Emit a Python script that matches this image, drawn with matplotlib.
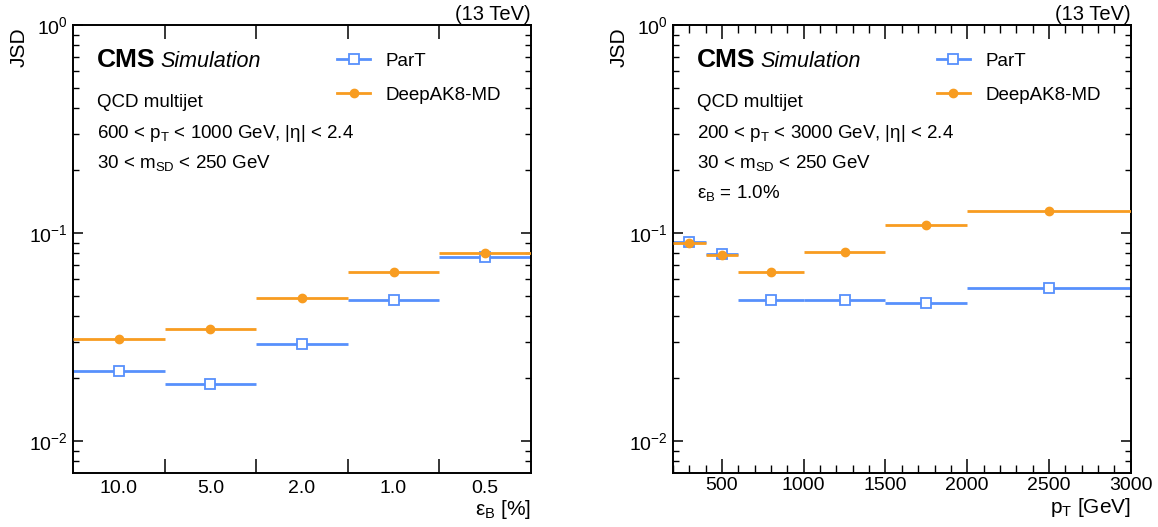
import matplotlib
matplotlib.use("Agg")
from matplotlib import pyplot as plt
from matplotlib.lines import Line2D
from matplotlib.ticker import FixedLocator, MultipleLocator, NullFormatter
import numpy as np

# ---------------- data ----------------
eff_labels = ['10.0', '5.0', '2.0', '1.0', '0.5']
jsd_part_eff = [0.0218, 0.0188, 0.0293, 0.0474, 0.0768]
jsd_dak8_eff = [0.0310, 0.0345, 0.0485, 0.0648, 0.0798]

pt_edges = [200, 400, 600, 1000, 1500, 2000, 3000]
jsd_part_pt = [0.0905, 0.0790, 0.0474, 0.0478, 0.0460, 0.0542]
jsd_dak8_pt = [0.0900, 0.0785, 0.0646, 0.0814, 0.1096, 0.1280]

BLUE = '#5790fc'
ORANGE = '#f89c20'

plt.rcParams['font.family'] = ['Liberation Sans', 'DejaVu Sans']
plt.rcParams['mathtext.default'] = 'regular'

#--------------------------------------------------------------------------------------------------
def draw_series(ax, x, xerr, part, dak8):
    ax.errorbar(x, part, xerr=xerr, fmt='s', color=BLUE, mfc='white', mec=BLUE,
                ms=6.5, mew=1.3, elinewidth=2, capsize=0, zorder=2)
    ax.errorbar(x, dak8, xerr=xerr, fmt='o', color=ORANGE, ms=6, elinewidth=2,
                capsize=0, zorder=3)

def style_axes(ax):
    ax.set_yscale('log')
    ax.set_ylim(7.02e-3, 1)
    ax.tick_params(which='both', direction='in', top=True, right=True, labelsize=14)
    ax.tick_params(which='major', length=7, width=1.1)
    ax.tick_params(which='minor', length=4, width=1.0)
    for s in ax.spines.values():
        s.set_linewidth(1.4)
    ax.set_ylabel('JSD', loc='top', fontsize=15)
    ax.yaxis.set_label_coords(-0.097, 0.995)
    ax.text(1.0, 1.011, '(13 TeV)', transform=ax.transAxes, ha='right', va='baseline', fontsize=14.5)
    ax.text(0.052, 0.906, 'CMS', transform=ax.transAxes, fontsize=19, fontweight='bold', va='baseline')
    handles = [Line2D([0], [0], color=BLUE, lw=2, marker='s', mfc='white', mec=BLUE, ms=6.5, mew=1.3),
               Line2D([0], [0], color=ORANGE, lw=2, marker='o', ms=6)]
    ax.legend(handles, ['ParT', 'DeepAK8-MD'], loc='upper left', bbox_to_anchor=(0.54, 0.976),
              frameon=False, fontsize=13.5, handlelength=1.75, handletextpad=0.85, labelspacing=0.9)

def add_text(ax, lines):
    ax.text(0.192, 0.906, 'Simulation', transform=ax.transAxes, fontsize=15.5, style='italic', va='baseline')
    ys = [0.818, 0.747, 0.680, 0.614]
    for y, s in zip(ys, lines):
        ax.text(0.052, y, s, transform=ax.transAxes, fontsize=13.5, va='baseline')
#--------------------------------------------------------------------------------------------------

fig = plt.figure(figsize=(11.58, 5.27), dpi=100)
ax1 = fig.add_axes([0.063, 0.1025, 0.3955, 0.850])
ax2 = fig.add_axes([0.581, 0.1025, 0.3955, 0.850])

# left: vs background efficiency
xpos = np.arange(len(eff_labels))
draw_series(ax1, xpos, 0.5, jsd_part_eff, jsd_dak8_eff)
style_axes(ax1)
ax1.set_xlim(-0.5, len(eff_labels) - 0.5)
ax1.xaxis.set_major_locator(FixedLocator(np.arange(0.5, len(eff_labels) - 0.5, 1.0)))
ax1.xaxis.set_major_formatter(NullFormatter())
ax1.xaxis.set_minor_locator(FixedLocator(xpos))
ax1.set_xticklabels(eff_labels, minor=True)
ax1.tick_params(axis='x', which='major', length=10)
ax1.tick_params(axis='x', which='minor', length=0, pad=5)
ax1.set_xlabel(r'$\varepsilon_B$ [%]', loc='right', fontsize=15, labelpad=1)
add_text(ax1, ['QCD multijet', r'600 < $p_T$ < 1000 GeV, |η| < 2.4', r'30 < $m_{SD}$ < 250 GeV'])

# right: vs jet pT
edges = np.array(pt_edges)
centers = 0.5 * (edges[1:] + edges[:-1])
half = 0.5 * (edges[1:] - edges[:-1])
draw_series(ax2, centers, half, jsd_part_pt, jsd_dak8_pt)
style_axes(ax2)
ax2.set_xlim(200, 3000)
ax2.xaxis.set_major_locator(MultipleLocator(500))
ax2.xaxis.set_minor_locator(MultipleLocator(100))
ax2.tick_params(axis='x', which='major', length=10, pad=3)
ax2.tick_params(axis='x', which='minor', length=6)
ax2.set_xlabel(r'$p_T$ [GeV]', loc='right', fontsize=15, labelpad=1)
add_text(ax2, ['QCD multijet', r'200 < $p_T$ < 3000 GeV, |η| < 2.4', r'30 < $m_{SD}$ < 250 GeV',
               r'$\varepsilon_B$ = 1.0%'])

fig.savefig('out.png', dpi=100)
